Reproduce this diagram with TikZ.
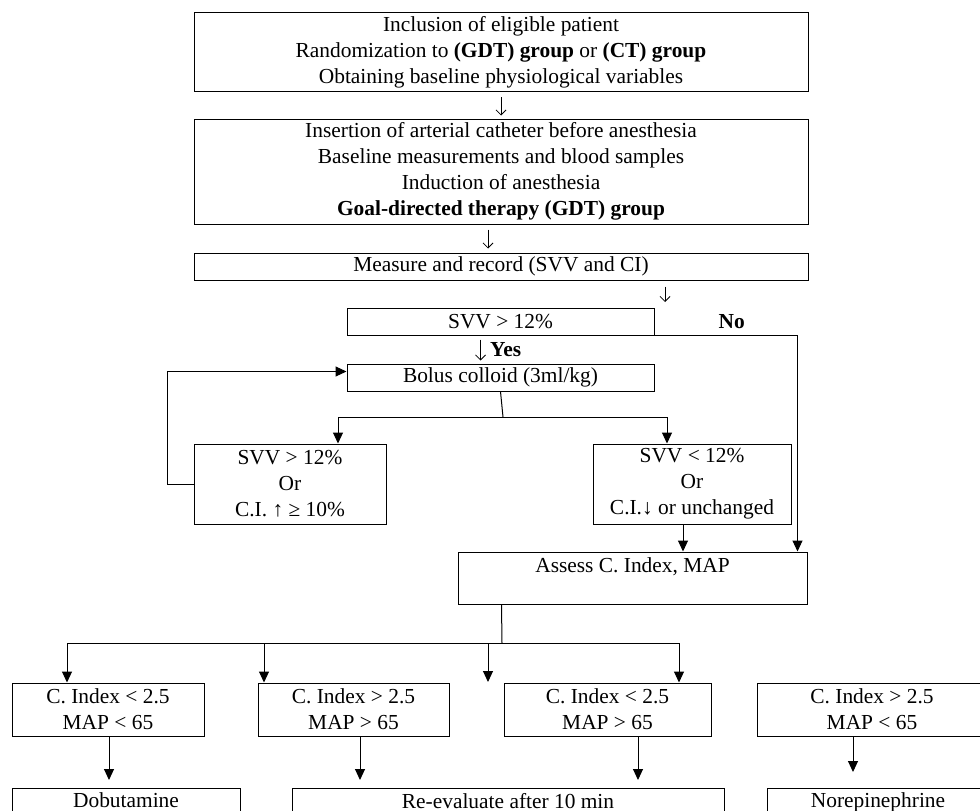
\documentclass[tikz,border=0pt]{standalone}
\usepackage{fontspec}
\setmainfont{Liberation Serif}
\usepackage{tikz}
\usetikzlibrary{arrows.meta,positioning}

\begin{document}
\begin{tikzpicture}[
    x=1pt, y=-1pt,
    font=\fontsize{21.4}{26}\selectfont,
    line width=1pt,
    stage/.style={draw, line width=1pt, inner sep=0pt, align=center},
    arr/.style={-{Triangle[length=11pt,width=10pt]}, line width=1pt},
    glyph/.style={-{Straight Barb[length=5pt,width=10pt]}, line width=0.8pt}
]
\useasboundingbox (0,0) rectangle (980,811);

% Top stages
\node[stage, minimum width=614pt, minimum height=79pt] (incl) at (501,52)
    {Inclusion of eligible patient\\Randomization to \textbf{(GDT) group} or \textbf{(CT) group}\\Obtaining baseline physiological variables};
\node[stage, minimum width=614pt, minimum height=105pt] (insert) at (501,171.5)
    {Insertion of arterial catheter before anesthesia\\Baseline measurements and blood samples\\Induction of anesthesia\\\textbf{Goal-directed therapy (GDT) group}};
\node[stage, minimum width=614pt, minimum height=27pt] (measure) at (501,266.5) {Measure and record (SVV and CI)};

% Fluid loop
\node[stage, minimum width=307pt, minimum height=27pt] (svv) at (500.5,321.5) {SVV > 12\%};
\node[stage, minimum width=307pt, minimum height=27pt] (bolus) at (500.5,377.5) {Bolus colloid (3ml/kg)};
\node[stage, minimum width=192pt, minimum height=80pt] (hi) at (290,484) {SVV > 12\%\\Or\\C.I. ↑ ≥ 10\%};
\node[stage, minimum width=198pt, minimum height=80pt] (lo) at (692,484) {SVV < 12\%\\Or\\C.I.↓ or unchanged};
\node[stage, minimum width=349pt, minimum height=52pt] (assess) at (632.5,578) {Assess C. Index, MAP\\~};

% Haemodynamic states
\node[stage, minimum width=192pt, minimum height=53pt] (c1) at (108,709.5) {C. Index < 2.5\\MAP < 65};
\node[stage, minimum width=191pt, minimum height=53pt] (c2) at (353.5,709.5) {C. Index > 2.5\\MAP > 65};
\node[stage, minimum width=207pt, minimum height=53pt] (c3) at (607.5,709.5) {C. Index < 2.5\\MAP > 65};
\node[stage, minimum width=230pt, minimum height=53pt] (c4) at (872,709.5) {C. Index > 2.5\\MAP < 65};

% Actions (cut at the lower edge)
\node[stage, anchor=north, minimum width=228pt, minimum height=50pt] (dobu) at (126,788) {Dobutamine\\~};
\node[stage, anchor=north, minimum width=432pt, minimum height=50pt] (reeval) at (508,788) {Re-evaluate after 10 min\\~};
\node[stage, anchor=north, minimum width=222pt, minimum height=50pt] (norep) at (878,788) {Norepinephrine\\~};

% Junctions and free ends
\coordinate (nodrop) at (665,302);
\coordinate (split) at (503,417);
\coordinate (split2) at (502,643);
\coordinate (loose) at (488,682);

% Thin arrows
\draw[glyph, shorten <=5pt, shorten >=3pt] (incl) -- (insert);
\draw[glyph, shorten <=5pt, shorten >=4pt] ([xshift=-13pt]insert.south) -- ([xshift=-13pt]measure.north);
\draw[glyph, shorten <=6pt] (measure.south -| nodrop) -- (nodrop);
\draw[glyph, shorten <=4pt, shorten >=3pt] ([xshift=-20pt]svv.south) -- ([xshift=-20pt]bolus.north)
    node[midway, right=6pt] {\textbf{Yes}};

% No branch
\draw[arr] (svv.south east) -| ([xshift=-10pt]assess.north east)
    node[pos=0.27, above=3pt] {\textbf{No}};

% Bolus and reassessment
\draw (bolus.south) -- (split);
\draw[arr] (split) -| ([xshift=48pt]hi.north);
\draw[arr] (split) -| ([xshift=-25pt]lo.north);
\draw[arr] (hi.west) -- ++(-26,0) |- ([yshift=6pt]bolus.west);
\draw[arr] ([xshift=-9pt]lo.south) -- ([xshift=-9pt]lo.south |- assess.north);

% Split to states
\draw ([xshift=-131pt]assess.south) -- (split2);
\draw[arr] (split2) -| ([xshift=-41pt]c1.north);
\draw[arr] (split2) -| ([xshift=-89.5pt]c2.north);
\draw[arr] (split2) -| (loose);
\draw[arr] (split2) -| ([xshift=71.5pt]c3.north);

% States to actions
\draw[arr, shorten >=8pt] ([xshift=1pt]c1.south) -- ([xshift=1pt]c1.south |- dobu.north);
\draw[arr, shorten >=8pt] ([xshift=6.5pt]c2.south) -- ([xshift=6.5pt]c2.south |- reeval.north);
\draw[arr, shorten >=8pt] ([xshift=30.5pt]c3.south) -- ([xshift=30.5pt]c3.south |- reeval.north);
\draw[arr, shorten >=16pt] ([xshift=-19pt]c4.south) -- ([xshift=-19pt]c4.south |- norep.north);

\end{tikzpicture}
\end{document}
